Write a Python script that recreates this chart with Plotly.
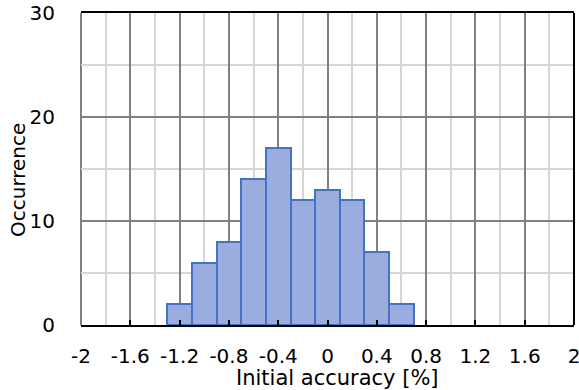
import plotly.graph_objects as go

bin_centers = [-1.2, -1.0, -0.8, -0.6, -0.4, -0.2, 0.0, 0.2, 0.4, 0.6]
counts = [2, 6, 8, 14, 17, 12, 13, 12, 7, 2]
x_tick_vals = [-2, -1.6, -1.2, -0.8, -0.4, 0, 0.4, 0.8, 1.2, 1.6, 2]
x_tick_text = ["-2", "-1.6", "-1.2", "-0.8", "-0.4", "0", "0.4", "0.8", "1.2", "1.6", "2"]
y_tick_vals = [0, 10, 20, 30]
x_title = "Initial accuracy [%]"
y_title = "Occurrence"

FONT = "DejaVu Sans, Verdana, sans-serif"
FS = 20

fig = go.Figure()
fig.add_trace(go.Bar(
    x=bin_centers, y=counts, width=0.2,
    marker=dict(color="#9badde", line=dict(color="#4472c4", width=2)),
))

fig.update_layout(
    width=579, height=390,
    margin=dict(l=81, r=5, t=13, b=65),
    paper_bgcolor="white", plot_bgcolor="white",
    font=dict(family=FONT, size=FS, color="black"),
    showlegend=False,
    bargap=0,
    xaxis=dict(
        range=[-2, 2], tickvals=x_tick_vals, ticktext=x_tick_text,
        showgrid=True, gridcolor="#808080", gridwidth=2,
        minor=dict(dtick=0.2, tick0=-2, showgrid=True, gridcolor="#d6d6d6", gridwidth=2),
        showline=True, linecolor="black", linewidth=2, mirror=True,
        ticks="inside", ticklen=5, tickcolor="black", tickwidth=2,
        zeroline=False, automargin=False,
        ticklabelstandoff=12, ticklabeloverflow="allow",
        tickfont=dict(size=FS),
    ),
    yaxis=dict(
        range=[0, 30], tickvals=y_tick_vals,
        showgrid=True, gridcolor="#808080", gridwidth=2,
        minor=dict(dtick=5, tick0=0, showgrid=True, gridcolor="#d6d6d6", gridwidth=2),
        showline=False, zeroline=False, automargin=False,
        ticklabelstandoff=25, ticklabeloverflow="allow",
        tickfont=dict(size=FS),
    ),
    shapes=[dict(type="line", xref="paper", yref="paper", x0=1, x1=1, y0=0, y1=1,
                 line=dict(color="black", width=2)),
            dict(type="line", xref="paper", yref="paper", x0=0, x1=0, y0=0, y1=1,
                 line=dict(color="#808080", width=2), layer="below")],
    annotations=[
        dict(text=x_title, xref="paper", yref="paper", x=0.5, y=0,
             xshift=10, yshift=-53, xanchor="center", yanchor="middle",
             showarrow=False, font=dict(size=21)),
        dict(text=y_title, xref="paper", yref="paper", x=0, y=0.5,
             xshift=-63, yshift=-11, xanchor="center", yanchor="middle",
             textangle=-90, showarrow=False, font=dict(size=FS)),
    ],
)

# remove the default 8px page margin so the figure sits at the window's corner
fig.write_html("out.html", config={"displayModeBar": False},
               post_script="document.body.style.margin='0';")
